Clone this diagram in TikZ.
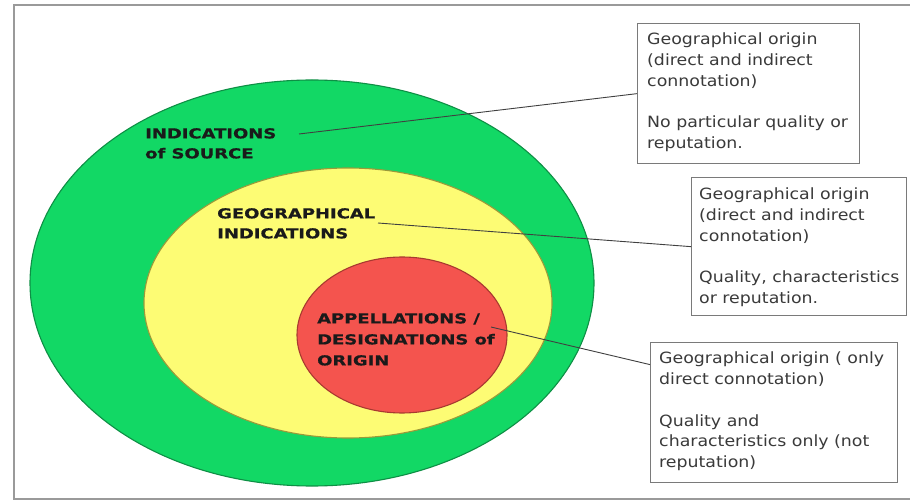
\documentclass[tikz,border=0pt]{standalone}
\usepackage{fontspec}
\usetikzlibrary{shapes.geometric,calc}
\newfontfamily\labfont[FakeStretch=1.31,BoldFeatures={FakeBold=0.7}]{DejaVu Sans}
\newfontfamily\boxfont[FakeStretch=1.12]{DejaVu Sans}
\definecolor{srcgreen}{HTML}{12D865}
\definecolor{srcedge}{HTML}{0E8F45}
\definecolor{giyellow}{HTML}{FDFC74}
\definecolor{giedge}{HTML}{9A9A3A}
\definecolor{aored}{HTML}{F4544E}
\definecolor{aoedge}{HTML}{A83A30}
\definecolor{frame}{HTML}{9A9A9A}
\definecolor{labtext}{HTML}{1A1A1A}
\definecolor{boxtext}{HTML}{3A3A3A}
\definecolor{boxedge}{HTML}{7A7A7A}
\definecolor{leader}{HTML}{404040}
\begin{document}
\begin{tikzpicture}[x=1pt,y=-1pt,
  zone/.style={ellipse,draw,line width=1.1pt,inner sep=0pt},
  zonelabel/.style={anchor=north west,inner sep=0pt,align=left,text=labtext,
    font=\labfont\bfseries\fontsize{13.7}{20}\selectfont},
  infobox/.style={draw=boxedge,line width=1.3pt,fill=white,anchor=north west,inner sep=0pt},
  infotext/.style={anchor=north west,inner sep=0pt,align=left,text=boxtext,
    font=\boxfont\fontsize{15.5}{20.7}\selectfont},
  leaderline/.style={draw=leader,line width=0.9pt}]
\useasboundingbox (0,0) rectangle (910,502);
\fill[white] (0,0) rectangle (910,502);
\begin{scope}
\clip (0,0) rectangle (910,502);
\draw[frame,line width=2pt] (14,5) rectangle (930,499);
\end{scope}

% nested zones
\node[zone,draw=srcedge,fill=srcgreen,minimum width=564pt,minimum height=406pt] (src) at (312,283) {};
\node[zone,draw=giedge,fill=giyellow,minimum width=408pt,minimum height=270pt] (gi) at (348,303) {};
\node[zone,draw=aoedge,fill=aored,minimum width=210pt,minimum height=156pt] (ao) at (402,335) {};

% zone labels
\node[zonelabel] (srclab) at (145,128) {INDICATIONS\\of SOURCE};
\node[zonelabel] (gilab) at (217,208) {GEOGRAPHICAL\\INDICATIONS};
\node[zonelabel,font=\labfont\bfseries\fontsize{13.7}{21}\selectfont] (aolab) at (317,313) {APPELLATIONS /\\DESIGNATIONS of\\ORIGIN};

% description boxes
\node[infobox,minimum width=222pt,minimum height=140pt] (b1) at (637,23) {};
\node[infobox,minimum width=215pt,minimum height=138pt] (b2) at (691,177) {};
\node[infobox,minimum width=247pt,minimum height=140pt] (b3) at (650,342) {};

\node[infotext] (t1) at ([xshift=10pt,yshift=-10pt]b1.north west)
  {Geographical origin\\(direct and indirect\\connotation)\\[20.7pt]No particular quality or\\reputation.};
\node[infotext] (t2) at ([xshift=8pt,yshift=-11pt]b2.north west)
  {Geographical origin\\(direct and indirect\\connotation)\\[20.7pt]Quality, characteristics\\or reputation.};
\node[infotext] (t3) at ([xshift=9pt,yshift=-10pt]b3.north west)
  {Geographical origin ( only\\direct connotation)\\[20.7pt]Quality and\\characteristics only (not\\reputation)};

% leader lines
\coordinate (s1) at (299,134);
\coordinate (s2) at (378,223);
\coordinate (s3) at (491,327);
\draw[leaderline] (s1) -- (b1.west);
\draw[leaderline] (s2) -- (b2.west);
\draw[leaderline] (s3) -- ($(b3.north west)!0.16!(b3.south west)$);
\end{tikzpicture}
\end{document}
